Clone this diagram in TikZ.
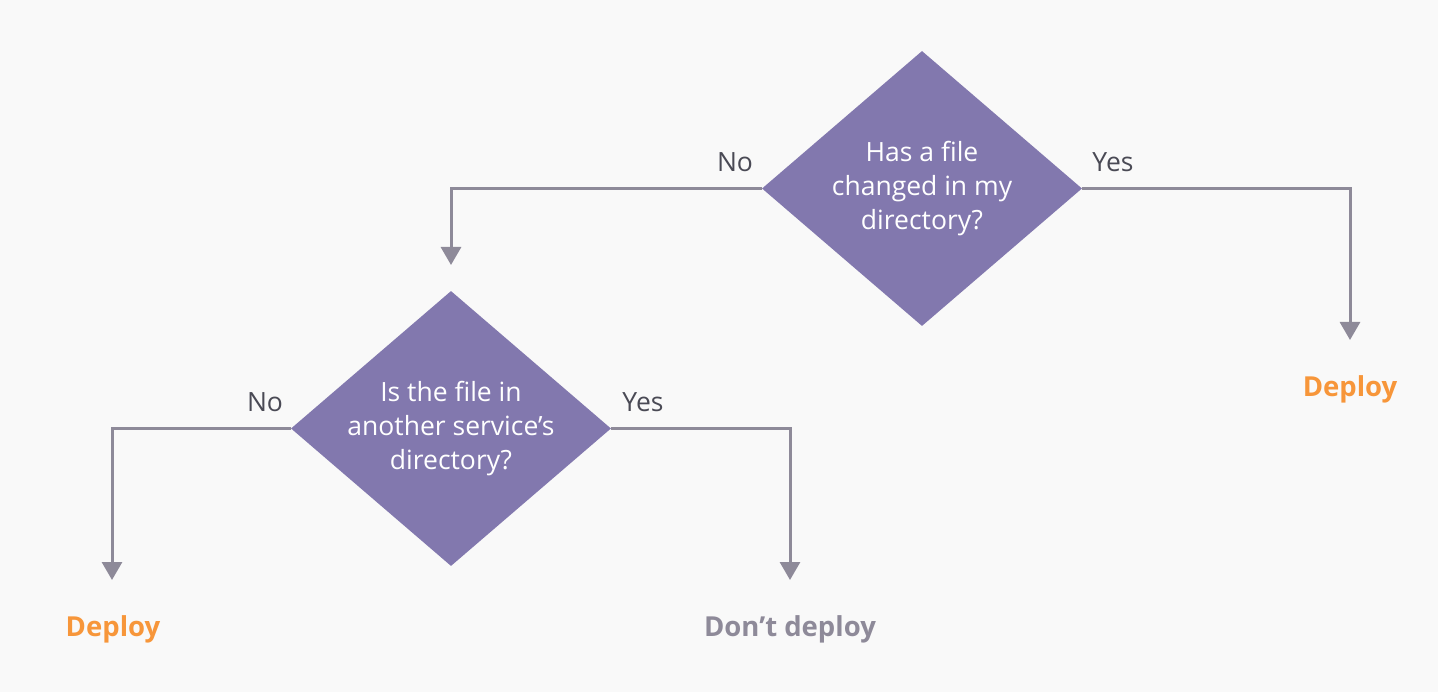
\documentclass[tikz,border=0pt]{standalone}
\usepackage{fontspec}
\setmainfont{Open Sans}
\usetikzlibrary{shapes.geometric,arrows.meta}
\definecolor{bgc}{HTML}{F9F9F9}
\definecolor{purp}{HTML}{8278AE}
\definecolor{linec}{HTML}{8E8A99}
\definecolor{labc}{HTML}{4A4A55}
\definecolor{orng}{HTML}{F7963A}
\tikzset{
  decision/.style={shape=diamond, fill=purp, draw=none, inner sep=0pt, aspect=1.16,
    minimum width=320pt, minimum height=275pt, text=white, align=center,
    font=\fontsize{26.5}{34}\selectfont},
  conn/.style={draw=linec, line width=3pt, -{Triangle[length=18pt,width=20pt]}},
  branch/.style={text=labc, font=\fontsize{26.5}{28}\selectfont, inner sep=0pt},
  deploy/.style={text=orng, font=\fontsize{27.5}{28}\selectfont\bfseries, inner sep=0pt},
  nodeploy/.style={text=linec, font=\fontsize{27.5}{28}\selectfont\bfseries, inner sep=0pt}
}
\begin{document}
\begin{tikzpicture}[x=1pt,y=-1pt]
\fill[bgc] (0,0) rectangle (1438,692);
\useasboundingbox (0,0) rectangle (1438,692);
\node[decision] (d1) at (922,188.5) {Has a file\\changed in my\\directory?};
\node[decision] (d2) at (451,428.5) {Is the file in\\another service’s\\directory?};
\coordinate (t1) at (451,265);
\coordinate (t2) at (1350,340);
\coordinate (t3) at (112,580);
\coordinate (t4) at (790,580);
\draw[conn] (d1.west) -| (t1);
\draw[conn] (d1.east) -| (t2);
\draw[conn] (d2.west) -| (t3);
\draw[conn] (d2.east) -| (t4);
\node[branch] (n1) at (735,162) {No};
\node[branch] (y1) at (1113,162) {Yes};
\node[branch] (n2) at (265,402) {No};
\node[branch] (y2) at (643,402) {Yes};
\node[deploy] (e1) at (1350,389) {Deploy};
\node[deploy] (e2) at (113,629) {Deploy};
\node[nodeploy] (e3) at (790,629) {Don’t deploy};
\end{tikzpicture}
\end{document}
